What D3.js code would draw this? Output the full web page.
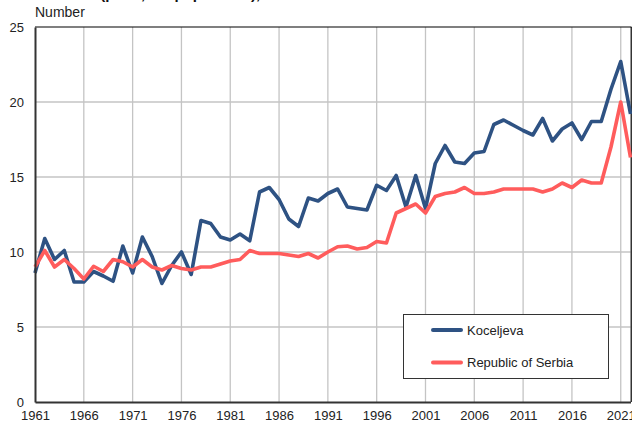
<!DOCTYPE html>
<html>
<head>
<meta charset="utf-8">
<script src="https://cdn.jsdelivr.net/npm/d3@7"></script>
<style>
  html, body { margin: 0; padding: 0; background: #fff; }
  svg { display: block; font-family: "Liberation Sans", Arial, sans-serif; }
</style>
</head>
<body>
<svg id="chart" width="632" height="426"></svg>
<script>
const years = d3.range(1961, 2023);
const koceljeva = [
  8.6, 10.9, 9.5, 10.1, 8.0, 8.0, 8.7, 8.4, 8.05, 10.4,
  8.6, 11.0, 9.7, 7.9, 9.1, 10.0, 8.5, 12.1, 11.9, 11.0,
  10.8, 11.2, 10.75, 14.0, 14.3, 13.5, 12.2, 11.7, 13.6, 13.4,
  13.9, 14.2, 13.0, 12.9, 12.8, 14.45, 14.1, 15.1, 13.0, 15.1,
  12.9, 15.9, 17.1, 16.0, 15.9, 16.6, 16.7, 18.5, 18.8, 18.45,
  18.1, 17.8, 18.9, 17.4, 18.2, 18.6, 17.5, 18.7, 18.7, 20.85,
  22.7, 19.2
];
const serbia = [
  9.0, 10.1, 9.0, 9.5, 8.9, 8.2, 9.05, 8.7, 9.5, 9.35,
  9.0, 9.5, 9.0, 8.8, 9.1, 8.9, 8.8, 9.0, 9.0, 9.2,
  9.4, 9.5, 10.1, 9.9, 9.9, 9.9, 9.8, 9.7, 9.9, 9.6,
  10.0, 10.35, 10.4, 10.2, 10.3, 10.7, 10.6, 12.6, 12.9, 13.2,
  12.6, 13.7, 13.9, 14.0, 14.3, 13.9, 13.9, 14.0, 14.2, 14.2,
  14.2, 14.2, 14.0, 14.2, 14.6, 14.3, 14.8, 14.6, 14.6, 17.0,
  20.0, 16.3
];
const xTickYears = d3.range(1961, 2022, 5);
const yTickValues = [0, 5, 10, 15, 20, 25];
const seriesNames = ["Koceljeva", "Republic of Serbia"];
const seriesColors = ["#2e5283", "#ff5c5c"];
const titleText = "Deaths (per 1,000 population), 1961–2022";
const yLabel = "Number";

const svg = d3.select("#chart");
const L = 35, R = 630.5, T = 27, B = 402;

const x = d3.scaleLinear().domain([1961, 2022]).range([L, R]);
const y = d3.scaleLinear().domain([0, 25]).range([B, T]);

// title (clipped at top in the reference)
svg.append("text").attr("x", 46).attr("y", -0.8)
  .attr("font-size", 15).attr("font-weight", "bold").attr("fill", "#111")
  .text(titleText);

svg.append("text").attr("x", 35).attr("y", 17)
  .attr("font-size", 14).attr("fill", "#222").text(yLabel);

// grid
const grid = svg.append("g");
grid.selectAll("line.h").data(yTickValues.filter(v => v > 0 && v < 25)).join("line")
  .attr("x1", L).attr("x2", R).attr("y1", d => y(d)).attr("y2", d => y(d))
  .attr("stroke", "#c4c4c4").attr("stroke-width", 1.3);
grid.selectAll("line.v").data(xTickYears.filter(v => v > 1961)).join("line")
  .attr("x1", d => x(d)).attr("x2", d => x(d)).attr("y1", T).attr("y2", B)
  .attr("stroke", "#c4c4c4").attr("stroke-width", 1.3);

// frame: top and right
svg.append("line").attr("x1", L).attr("x2", 631.5).attr("y1", T).attr("y2", T)
  .attr("stroke", "#000").attr("stroke-width", 1.2);
svg.append("line").attr("x1", 631.2).attr("x2", 631.2).attr("y1", T).attr("y2", B)
  .attr("stroke", "#000").attr("stroke-width", 1.2);

// lines
const lineGen = vals => d3.line().x((d, i) => x(years[i])).y(d => y(d))(vals);
[koceljeva, serbia].forEach((vals, k) => {
  svg.append("path").attr("d", lineGen(vals))
    .attr("fill", "none").attr("stroke", seriesColors[k])
    .attr("stroke-width", 3.6).attr("stroke-linejoin", "round");
});

// axes
const yAxis = d3.axisLeft(y).tickValues(yTickValues).tickSize(0).tickPadding(11);
const gy = svg.append("g").attr("transform", `translate(${L},0)`).call(yAxis);
gy.select(".domain").attr("stroke", "#333").attr("stroke-width", 2);
gy.selectAll("text").attr("font-size", 13).attr("fill", "#222")
  .attr("font-family", "Liberation Sans, Arial, sans-serif");

const xAxis = d3.axisBottom(x).tickValues(xTickYears).tickFormat(d3.format("d")).tickSize(0).tickPadding(9);
const gx = svg.append("g").attr("transform", `translate(0,${B})`).call(xAxis);
gx.select(".domain").attr("stroke", "#333").attr("stroke-width", 2);
gx.selectAll("text").attr("font-size", 13).attr("fill", "#222")
  .attr("font-family", "Liberation Sans, Arial, sans-serif");

// legend
const lg = svg.append("g");
lg.append("rect").attr("x", 403.5).attr("y", 314.5).attr("width", 205).attr("height", 64)
  .attr("fill", "#fff").attr("stroke", "#333").attr("stroke-width", 1);
seriesNames.forEach((name, k) => {
  const yy = 330 + k * 32.5;
  lg.append("line").attr("x1", 433).attr("x2", 461).attr("y1", yy).attr("y2", yy)
    .attr("stroke", seriesColors[k]).attr("stroke-width", 4).attr("stroke-linecap", "round");
  lg.append("text").attr("x", 467).attr("y", yy + 4.5)
    .attr("font-size", 13).attr("fill", "#222").text(name);
});
</script>
</body>
</html>
